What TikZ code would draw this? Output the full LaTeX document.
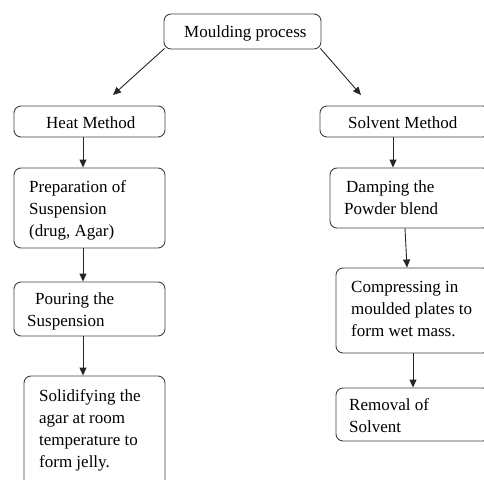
\documentclass[tikz,border=0pt]{standalone}
\usepackage{fontspec}
\setmainfont{Liberation Serif}
\usetikzlibrary{arrows.meta}
\begin{document}
\begin{tikzpicture}[x=1pt,y=-1pt,
  box/.style={draw=black!75,line width=0.9pt,rounded corners=7pt,inner sep=0pt},
  lbl/.style={anchor=base west,inner sep=0pt,font=\fontsize{17}{22}\selectfont},
  conn/.style={draw=black!85,line width=0.9pt,-{Triangle[length=8pt,width=7pt]}}]
\useasboundingbox (0,0) rectangle (484,479);
\clip (0,0) rectangle (484,479);
% boxes
\node[box,minimum width=157pt,minimum height=35pt] (mpn) at (242.5,31.5) {};
\node[box,minimum width=151pt,minimum height=31pt] (heat) at (89.5,121.5) {};
\node[box,minimum width=170pt,minimum height=31pt] (solv) at (405,121.5) {};
\node[box,minimum width=151pt,minimum height=80pt] (prep) at (89.5,208) {};
\node[box,minimum width=151pt,minimum height=54pt] (pour) at (89.5,309) {};
\node[box,minimum width=141pt,minimum height=114pt] (solid) at (94.5,433) {};
\node[box,minimum width=160pt,minimum height=60pt] (damp) at (410,198) {};
\node[box,minimum width=154pt,minimum height=85pt] (comp) at (413,310.5) {};
\node[box,minimum width=154pt,minimum height=53pt] (rem) at (413,414.5) {};
% texts
\node[lbl] (t1) at (184,37) {Moulding process};
\node[lbl] (t2) at (46,128) {Heat Method};
\node[lbl] (t3) at (348,128) {Solvent Method};
\node[lbl] (t4a) at (29,192) {Preparation of};
\node[lbl] (t4b) at (29,214) {Suspension};
\node[lbl] (t4c) at (29,236) {(drug, Agar)};
\node[lbl] (t5a) at (35,304) {Pouring the};
\node[lbl] (t5b) at (27,326) {Suspension};
\node[lbl] (t6a) at (39,401) {Solidifying the};
\node[lbl] (t6b) at (39,423) {agar at room};
\node[lbl] (t6c) at (39,445) {temperature to};
\node[lbl] (t6d) at (39,467) {form jelly.};
\node[lbl] (t7a) at (346,192) {Damping the};
\node[lbl] (t7b) at (344,214) {Powder blend};
\node[lbl] (t8a) at (351,292) {Compressing in};
\node[lbl] (t8b) at (351,314) {moulded plates to};
\node[lbl] (t8c) at (351,336) {form wet mass.};
\node[lbl] (t9a) at (349,410) {Removal of};
\node[lbl] (t9b) at (349,432) {Solvent};
% connectors
\coordinate (e1) at (113,95);
\coordinate (e2) at (361,95);
\draw[conn] (mpn.south west) ++(1,-1) -- (e1);
\draw[conn] (mpn.south east) ++(-1,-1) -- (e2);
\draw[conn] (heat.south -| 83,0) -- (prep.north -| 83,0);
\draw[conn] (solv.south -| 393,0) -- (damp.north -| 393,0);
\draw[conn] (prep.south -| 83,0) -- (pour.north -| 83,0);
\draw[conn] (pour.south -| 83,0) -- (solid.north -| 83,0);
\draw[conn] (damp.south -| 405,0) -- (comp.north -| 407,0);
\draw[conn] (comp.south -| 413,0) -- (rem.north -| 413,0);
\end{tikzpicture}
\end{document}
